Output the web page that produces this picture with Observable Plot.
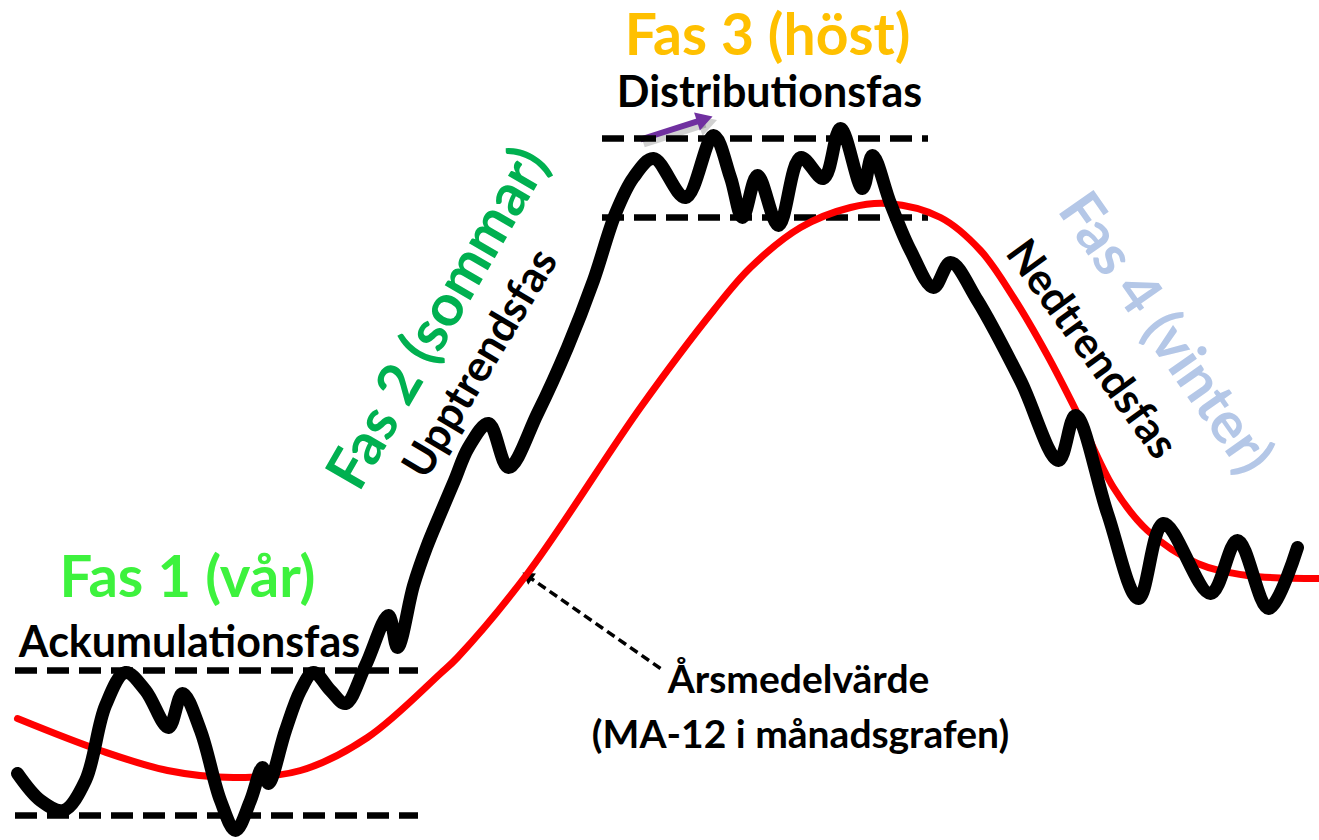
<!DOCTYPE html>
<html><head><meta charset="utf-8">
<script src="https://cdn.jsdelivr.net/npm/d3@7"></script>
<script src="https://cdn.jsdelivr.net/npm/@observablehq/plot@0.6"></script>
<style>html,body{margin:0;padding:0;background:#fff;overflow:hidden}#chart svg{display:block}</style>
</head><body><div id="chart"></div>
<script>
// Price path (time, price level)
const priceT = [17,40,63,85,105,125,145,168,182,200,220,235,250,262,268,285,300,313,330,345,365,388,397,413,426,440,454,468,488,508,537,567,593,615,633,653,685,713,730,742,757,778,800,823,840,862,872,890,910,933,950,977,1020,1058,1075,1107,1138,1163,1210,1237,1268,1297];
const priceV = [67,40,30,60,135,168,150,113,147,110,40,10,40,73,57,110,150,168,150,137,175,225,193,255,293,327,360,393,417,373,427,493,560,627,663,682,643,705,663,623,665,615,683,662,712,652,685,637,590,553,578,540,460,380,425,327,242,317,247,300,232,293];
// Yearly moving average (MA-12)
const maT = [17,100,167,233,300,367,440,457,527,640,713,750,800,850,887,940,980,1013,1047,1077,1113,1147,1197,1247,1319];
const maV = [122,90,70,63,70,103,167,183,267,433,530,573,613,633,637,623,590,543,485,427,353,310,277,265,262];
// Range (support / resistance) lines
const rangeLevel = [25,170,702,623];
const rangeFrom = [15,15,602,602];
const rangeTo = [418,418,928,928];
// Labels
const labelText = ["Fas 1 (vår)","Ackumulationsfas","Fas 2 (sommar)","Upptrendsfas","Fas 3 (höst)","Distributionsfas","Fas 4 (vinter)","Nedtrendsfas","Årsmedelvärde","(MA-12 i månadsgrafen)"];
const labelT = [187,189,438,480,767,769,1165,1091,798,800];
const labelV = [262,197,522,477,804,747,507,491,160,105];
const labelRotate = [0,0,-60,-59,0,0,55,54,0,0];
const labelColor = ["#3DF23D","#000","#00B050","#000","#FFC000","#000","#B4C7E7","#000","#000","#000"];
const labelSize = [58,43,58,43,57,43,58,43,39,39];
// Arrows: from (t, v) to (t, v)
const arrowFromT = [660,640], arrowFromV = [172,701], arrowToT = [522,712], arrowToV = [268,724];
const arrowColor = ["#000","#7030A0"], arrowWidth = [3.5,6], arrowDash = ["9,5","none"], arrowHeadR = [5,7];

const price = priceT.map((t,i)=>({t, v: priceV[i]}));
const ma = maT.map((t,i)=>({t, v: maV[i]}));
const ranges = rangeLevel.map((v,i)=>({v, x1: rangeFrom[i], x2: rangeTo[i]}));
const labels = labelText.map((s,i)=>({s, t: labelT[i], v: labelV[i], r: labelRotate[i], c: labelColor[i], f: labelSize[i]}));
const arrows = arrowFromT.map((t,i)=>{
  const dx = arrowToT[i]-t, dyS = -(arrowToV[i]-arrowFromV[i]);
  const L = Math.hypot(dx, dyS), ux = dx/L, uy = dyS/L, back = 1.55*arrowHeadR[i];
  return {x1:t, y1:arrowFromV[i], x2:arrowToT[i], y2:arrowToV[i],
    hx: arrowToT[i]-ux*back, hy: arrowToV[i]+uy*back,
    rot: Math.atan2(dx, -dyS)*180/Math.PI, c: arrowColor[i], w: arrowWidth[i], d: arrowDash[i], r: arrowHeadR[i]};
});

const marks = [];
for (const l of labels) {
  marks.push(Plot.text([l], {x:"t", y:"v", text:"s", rotate:l.r, fill:l.c, fontSize:l.f, fontWeight:"bold", fontFamily:"Lato", textAnchor:"middle", lineAnchor:"middle"}));
}
for (const a of arrows) {
  if (a.d === "none") {
    marks.push(Plot.link([a], {x1:"x1", y1:"y1", x2:"hx", y2:"hy", stroke:"#000", strokeOpacity:0.18, strokeWidth:a.w+2, dx:3, dy:4}));
    marks.push(Plot.dot([a], {x:"hx", y:"hy", symbol:"triangle", r:a.r+1, fill:"#000", fillOpacity:0.18, rotate:"rot", dx:3, dy:4}));
  }
  marks.push(Plot.link([a], {x1:"x1", y1:"y1", x2:"hx", y2:"hy", stroke:a.c, strokeWidth:a.w, strokeDasharray:a.d}));
  marks.push(Plot.dot([a], {x:"hx", y:"hy", symbol:"triangle", r:a.r, fill:a.c, rotate:"rot"}));
}
marks.push(Plot.ruleY(ranges, {y:"v", x1:"x1", x2:"x2", stroke:"#000", strokeWidth:6.5, strokeDasharray:"22,10"}));
marks.push(Plot.line(ma, {x:"t", y:"v", stroke:"#FF0000", strokeWidth:7, curve:"catmull-rom"}));
marks.push(Plot.line(price, {x:"t", y:"v", stroke:"#000", strokeWidth:13, curve:"catmull-rom", strokeLinejoin:"round"}));

const chart = Plot.plot({
  width:1319, height:840, margin:0,
  x:{domain:[0,1319], axis:null},
  y:{domain:[0,840], axis:null},
  style:{background:"#fff"},
  marks
});
document.getElementById("chart").append(chart);
</script></body></html>
